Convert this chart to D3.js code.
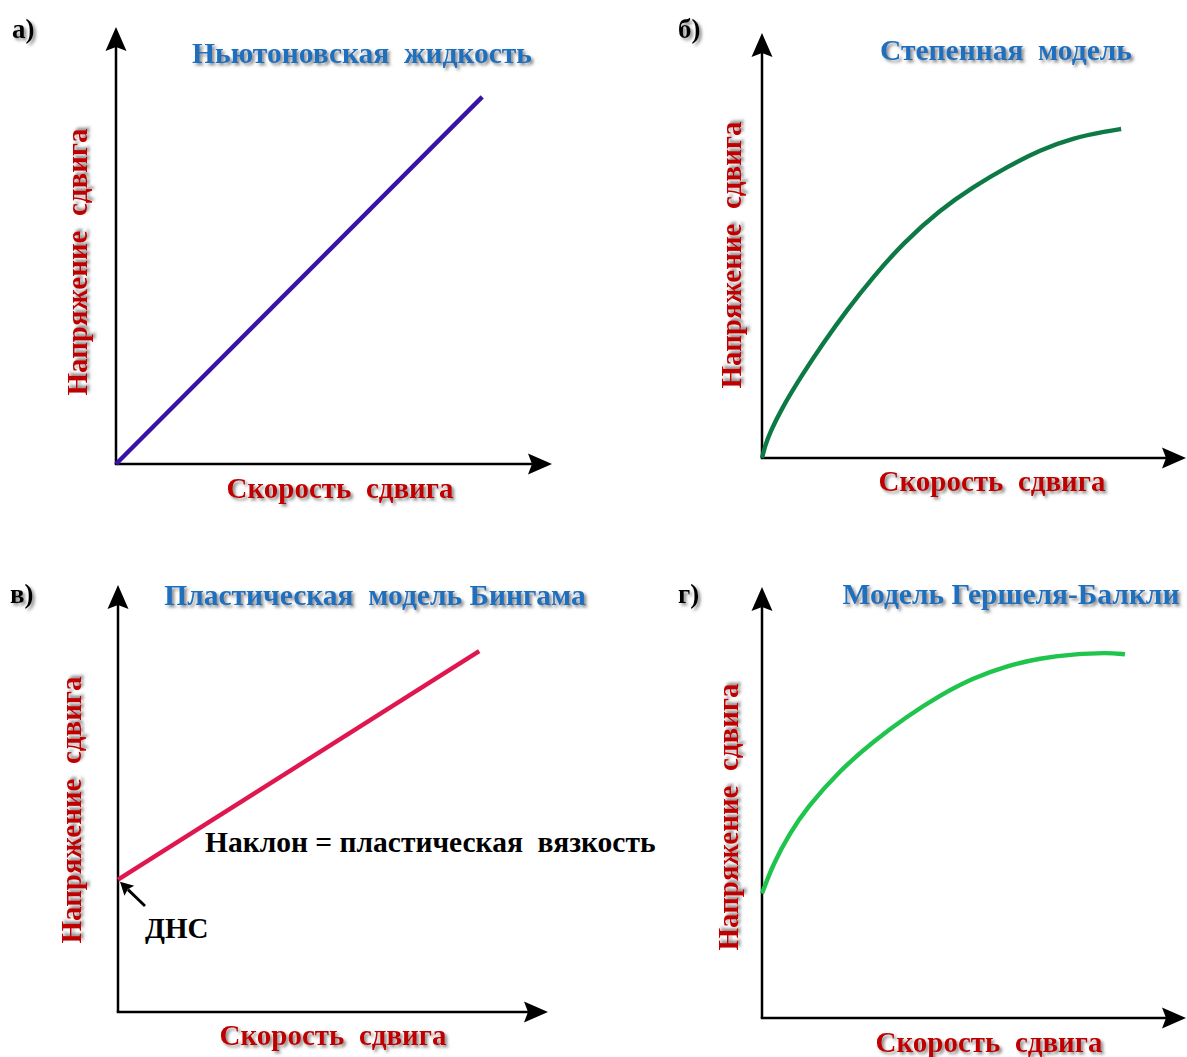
<!DOCTYPE html>
<html>
<head>
<meta charset="utf-8">
<script src="https://cdn.jsdelivr.net/npm/d3@7"></script>
<style>
  html, body { margin: 0; padding: 0; background: #fff; }
  svg { display: block; }
  text { font-family: "Liberation Serif", "Times New Roman", serif; font-weight: bold; }
</style>
</head>
<body>
<svg id="chart" width="1187" height="1057"></svg>
<script>
// ---------- DATA ----------
const panelLetters = ["а)", "б)", "в)", "г)"];
const panelTitles = ["Ньютоновская  жидкость", "Степенная  модель", "Пластическая  модель Бингама", "Модель Гершеля-Балкли"];
const xAxisLabel = "Скорость  сдвига";
const yAxisLabel = "Напряжение  сдвига";
const binghamSlopeNote = "Наклон = пластическая  вязкость";
const yieldPointNote = "ДНС";

// shear rate (x) and shear stress (y), relative units 0..100 (axis arrow tip = 100)
const newtonRate   = [0, 84];
const newtonStress = [0, 84];

const powerRate   = [0, 0.7, 1.9, 4.5, 9.2, 14.4, 20.0, 26.2, 33.3, 42.0, 49.8, 57.8, 65.6, 73.3, 81.4, 84.7];
const powerStress = [0, 2.8, 6.0, 11.4, 19.2, 27.0, 34.8, 42.6, 50.6, 58.4, 63.8, 68.5, 72.5, 75.3, 76.9, 77.4];

const binghamRate   = [0, 84];
const binghamStress = [31, 84.5];

const hbRate   = [0, 2.7, 6.6, 10.5, 18.4, 26.2, 34.1, 42.0, 49.8, 57.7, 65.6, 73.4, 81.3, 85.6];
const hbStress = [28.9, 35.9, 42.9, 48.7, 57.5, 64.1, 69.9, 74.9, 78.9, 81.7, 83.5, 84.4, 84.8, 84.4];

// ---------- LAYOUT ----------
const layout = [
  { ox: 116, oy: 464, xt: 552, yt: 27,
    letter: [12, 38], title: [362, 63], xl: [340, 498], yl: [87, 262] },
  { ox: 762, oy: 458, xt: 1186, yt: 33,
    letter: [678, 38], title: [1006, 60], xl: [992, 491], yl: [741, 255] },
  { ox: 118, oy: 1012, xt: 548, yt: 585,
    letter: [10, 603], title: [375, 605], xl: [333, 1045], yl: [81, 810] },
  { ox: 762, oy: 1018, xt: 1186, yt: 587,
    letter: [678, 603], title: [1011, 604], xl: [989, 1052], yl: [738, 817] }
];
const series = [
  { rate: newtonRate, stress: newtonStress, color: "#3714a6", curve: d3.curveLinear },
  { rate: powerRate, stress: powerStress, color: "#0d7a45", curve: d3.curveBasis },
  { rate: binghamRate, stress: binghamStress, color: "#e0164f", curve: d3.curveLinear },
  { rate: hbRate, stress: hbStress, color: "#1ec44c", curve: d3.curveBasis }
];

const svg = d3.select("#chart");
const defs = svg.append("defs");
const f = defs.append("filter").attr("id", "shadow")
  .attr("x", "-10%").attr("y", "-20%").attr("width", "130%").attr("height", "160%");
f.append("feDropShadow").attr("dx", 2.4).attr("dy", 2.4).attr("stdDeviation", 1.4)
  .attr("flood-color", "#666").attr("flood-opacity", 0.75);

function arrowHead(g, x, y, angle) {
  const L = 24, W = 21, notch = 4;
  g.append("path")
    .attr("d", `M0,0 L${-L},${-W/2} L${-L+notch},0 L${-L},${W/2} Z`)
    .attr("transform", `translate(${x},${y}) rotate(${angle})`)
    .attr("fill", "#000");
}

layout.forEach((p, i) => {
  const g = svg.append("g");
  const x = d3.scaleLinear().domain([0, 100]).range([p.ox, p.xt]);
  const y = d3.scaleLinear().domain([0, 100]).range([p.oy, p.yt]);

  // axes
  g.append("line").attr("x1", x(0)).attr("y1", y(0)).attr("x2", x(0)).attr("y2", y(100) + 15)
    .attr("stroke", "#000").attr("stroke-width", 2.5);
  g.append("line").attr("x1", x(0) - 1.25).attr("y1", y(0)).attr("x2", x(100) - 15).attr("y2", y(0))
    .attr("stroke", "#000").attr("stroke-width", 2.5);
  arrowHead(g, x(0), y(100), -90);
  arrowHead(g, x(100), y(0), 0);

  // series
  const s = series[i];
  const pts = s.rate.map((r, k) => [r, s.stress[k]]);
  g.append("path").datum(pts)
    .attr("d", d3.line().x(d => x(d[0])).y(d => y(d[1])).curve(s.curve))
    .attr("fill", "none").attr("stroke", s.color).attr("stroke-width", 4.4)
    .attr("stroke-linecap", "butt");

  // texts
  g.append("text").attr("x", p.letter[0]).attr("y", p.letter[1])
    .attr("font-size", 27).attr("fill", "#000").attr("filter", "url(#shadow)")
    .text(panelLetters[i]);
  g.append("text").attr("x", p.title[0]).attr("y", p.title[1])
    .attr("text-anchor", "middle").attr("font-size", 29.5).attr("fill", "#1f6fbd")
    .attr("filter", "url(#shadow)").style("white-space", "pre")
    .text(panelTitles[i]);
  g.append("text").attr("x", p.xl[0]).attr("y", p.xl[1])
    .attr("text-anchor", "middle").attr("font-size", 29).attr("fill", "#c00000")
    .attr("filter", "url(#shadow)").style("white-space", "pre")
    .text(xAxisLabel);
  g.append("text")
    .attr("transform", `translate(${p.yl[0]},${p.yl[1]}) rotate(-90)`)
    .attr("text-anchor", "middle").attr("font-size", 29).attr("fill", "#c00000")
    .attr("filter", "url(#shadow)").style("white-space", "pre")
    .text(yAxisLabel);

  if (i === 2) {
    g.append("text").attr("x", 205).attr("y", 852)
      .attr("font-size", 29.5).attr("fill", "#000").style("white-space", "pre")
      .text(binghamSlopeNote);
    g.append("text").attr("x", 145).attr("y", 938)
      .attr("font-size", 29).attr("fill", "#000")
      .text(yieldPointNote);
    // small arrow pointing at yield point
    const tipX = x(0) + 2, tipY = y(binghamStress[0]) + 2;
    g.append("line").attr("x1", 145).attr("y1", 906).attr("x2", tipX + 8).attr("y2", tipY + 8)
      .attr("stroke", "#000").attr("stroke-width", 2.8);
    const ang = Math.atan2(tipY - 906, tipX - 145) * 180 / Math.PI;
    g.append("path")
      .attr("d", "M0,0 L-13,-7 L-11,0 L-13,7 Z")
      .attr("transform", `translate(${tipX},${tipY}) rotate(${ang})`)
      .attr("fill", "#000");
  }
});
</script>
</body>
</html>
